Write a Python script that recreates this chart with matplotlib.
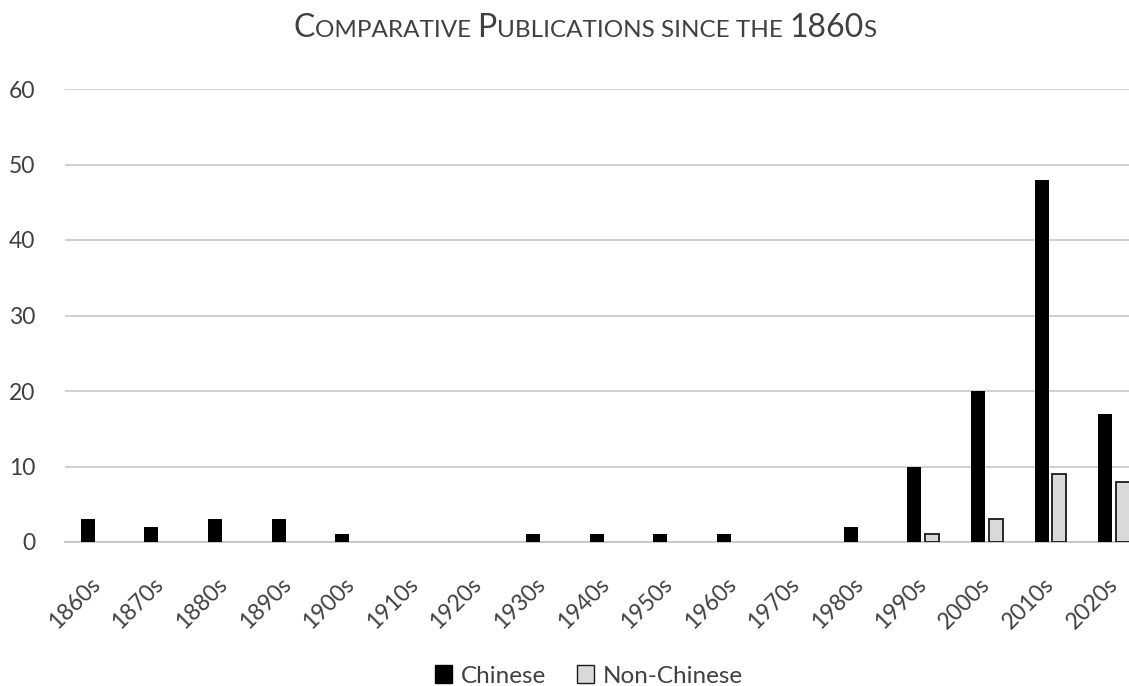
import numpy as np
import matplotlib
matplotlib.use("Agg")
import matplotlib.pyplot as plt
from matplotlib.patches import Patch

plt.rcParams['font.family'] = ['Lato', 'DejaVu Sans']

decades = ['1860s', '1870s', '1880s', '1890s', '1900s', '1910s', '1920s', '1930s', '1940s',
           '1950s', '1960s', '1970s', '1980s', '1990s', '2000s', '2010s', '2020s']
chinese = [3, 2, 3, 3, 1, 0, 0, 1, 1, 1, 1, 0, 2, 10, 20, 48, 17]
non_chinese = [0, 0, 0, 0, 0, 0, 0, 0, 0, 0, 0, 0, 0, 1, 3, 9, 8]

W, H = 1129, 686
fig = plt.figure(figsize=(W / 100, H / 100), dpi=100)
# plot area in pixels: left 65, right cut at 1129, top 89, bottom 542
ax = fig.add_axes([65 / W, (H - 542) / H, (W - 65) / W, (542 - 89) / H])

x = np.arange(len(decades))
bw = 0.22
ax.bar(x - 0.14, chinese, bw, color='black', zorder=3)
# no outline for empty bars
lw = [1.3 if v > 0 else 0 for v in non_chinese]
ax.bar(x + 0.14, non_chinese, bw, color='#d9d9d9', edgecolor='#1a1a1a', linewidth=lw, zorder=3)

ax.set_xlim(-0.5, (W - 96.5) / 63.6)
ax.set_ylim(0, 60)
ax.set_yticks(range(0, 61, 10))
ax.yaxis.grid(True, color='#d0d0d0', linewidth=1.4, zorder=0)
for s in ['top', 'right', 'left']:
    ax.spines[s].set_visible(False)
ax.spines['bottom'].set_color('#c8c8c8')
ax.spines['bottom'].set_linewidth(1.4)
ax.tick_params(axis='both', length=0, labelsize=16.5, labelcolor='#404040')
ax.tick_params(axis='y', pad=21.5)
ax.set_xticks(x)
ax.set_xticklabels(decades, rotation=45, ha='right', va='center', rotation_mode='anchor')
ax.tick_params(axis='x', pad=28)

# title with small caps
title = 'Comparative Publications since the 1860s'
big, small = 23, 17.5
runs = []
for word_i, word in enumerate(title.split(' ')):
    if word_i > 0:
        runs.append((' ', small))
    for ch in word:
        if ch.isupper() or ch.isdigit():
            runs.append((ch, big))
        else:
            runs.append((ch.upper(), small))
merged = []
for s, fs in runs:
    if merged and merged[-1][1] == fs:
        merged[-1] = (merged[-1][0] + s, fs)
    else:
        merged.append((s, fs))

renderer = fig.canvas.get_renderer()
texts = []
for s, fs in merged:
    t = fig.text(0, 1 - 37 / H, s, fontsize=fs, color='#404040', va='baseline', ha='left')
    texts.append(t)
widths = [t.get_window_extent(renderer).width for t in texts]
total = sum(widths)
xpos = 585 - total / 2
for t, w in zip(texts, widths):
    t.set_x(xpos / W)
    xpos += w

handles = [Patch(facecolor='black', edgecolor='black', label='Chinese'),
           Patch(facecolor='#d9d9d9', edgecolor='#1a1a1a', label='Non-Chinese')]
fig.legend(handles=handles, loc='center', bbox_to_anchor=(589 / W, 1 - 676 / H), ncol=2,
           frameon=False, fontsize=17.5, labelcolor='#404040', handlelength=0.7, handleheight=0.7,
           handletextpad=0.35, columnspacing=1.3, borderpad=0)

fig.savefig('out.png', dpi=100)
